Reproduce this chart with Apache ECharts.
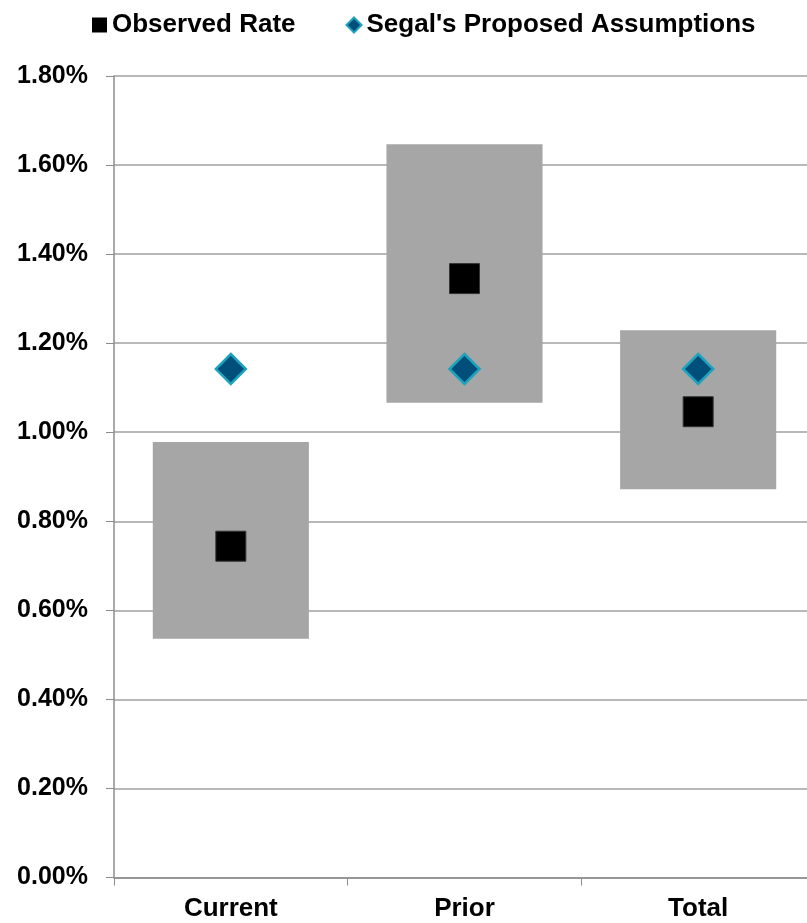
<!DOCTYPE html>
<html>
<head>
<meta charset="utf-8">
<script src="https://cdn.jsdelivr.net/npm/echarts@6/dist/echarts.min.js"></script>
<style>
  html, body { margin: 0; padding: 0; background: #fff; overflow: hidden; }
  #chart { width: 815px; height: 923px; }
</style>
</head>
<body>
<div id="chart"></div>
<script>
// categories and values (in percent)
var categories = ['Current', 'Prior', 'Total'];
var rangeLow = [0.536, 1.066, 0.872];
var rangeHigh = [0.978, 1.647, 1.229];
var observedRate = [0.744, 1.345, 1.046];
var segalAssumptions = [1.142, 1.142, 1.142];
var yTicks = { min: 0, max: 1.8, step: 0.2 };

var chart = echarts.init(document.getElementById('chart'));

// grey boxes: from low to high for each category
var boxData = categories.map(function (c, i) {
    return [i, rangeLow[i], rangeHigh[i]];
});

var option = {
    animation: false,
    textStyle: { fontFamily: 'Liberation Sans, Arial, sans-serif' },
    legend: {
        left: 87,
        top: 7,
        itemWidth: 15,
        itemHeight: 15,
        itemGap: 50,
        data: [
            { name: 'Observed Rate', icon: 'rect', itemStyle: { color: '#000', borderWidth: 0 } },
            { name: "Segal's Proposed Assumptions", icon: 'diamond' }
        ],
        textStyle: { color: '#000', fontSize: 26, fontWeight: 'bold' }
    },
    grid: { left: 114, right: 0, top: 76, bottom: 45.5 },
    xAxis: {
        type: 'category',
        data: categories,
        boundaryGap: true,
        axisLine: { lineStyle: { color: '#8c8c8c', width: 1.5 } },
        axisTick: { show: true, length: 8, lineStyle: { color: '#8c8c8c' } },
        axisLabel: { color: '#000', fontSize: 26, fontWeight: 'bold', margin: 18 }
    },
    yAxis: {
        type: 'value',
        min: yTicks.min,
        max: yTicks.max,
        interval: yTicks.step,
        axisLine: { show: true, lineStyle: { color: '#8c8c8c', width: 1.5 } },
        axisTick: { show: true, length: 8, lineStyle: { color: '#8c8c8c' } },
        splitLine: { lineStyle: { color: '#a0a0a0', width: 1.5 } },
        axisLabel: {
            color: '#000', fontSize: 25, fontWeight: 'bold', margin: 26,
            formatter: function (v) { return v.toFixed(2) + '%'; }
        }
    },
    series: [
        {
            name: 'Range',
            type: 'custom',
            data: boxData,
            z: 1,
            renderItem: function (params, api) {
                var lo = api.coord([api.value(0), api.value(1)]);
                var hi = api.coord([api.value(0), api.value(2)]);
                var w = api.size([1, 0])[0] * 0.668;
                return {
                    type: 'rect',
                    shape: { x: lo[0] - w / 2, y: hi[1], width: w, height: lo[1] - hi[1] },
                    style: { fill: '#a6a6a6' }
                };
            }
        },
        {
            name: 'Observed Rate',
            type: 'scatter',
            data: observedRate,
            symbol: 'rect',
            symbolSize: 30,
            z: 3,
            itemStyle: { color: '#000', borderColor: '#333', borderWidth: 1, opacity: 1 }
        },
        {
            name: "Segal's Proposed Assumptions",
            type: 'scatter',
            data: segalAssumptions,
            symbol: 'diamond',
            symbolSize: [30, 30],
            z: 3,
            itemStyle: { color: '#004e7a', borderColor: '#1ba3bd', borderWidth: 2.5, opacity: 1 }
        }
    ]
};

chart.setOption(option);
</script>
</body>
</html>
